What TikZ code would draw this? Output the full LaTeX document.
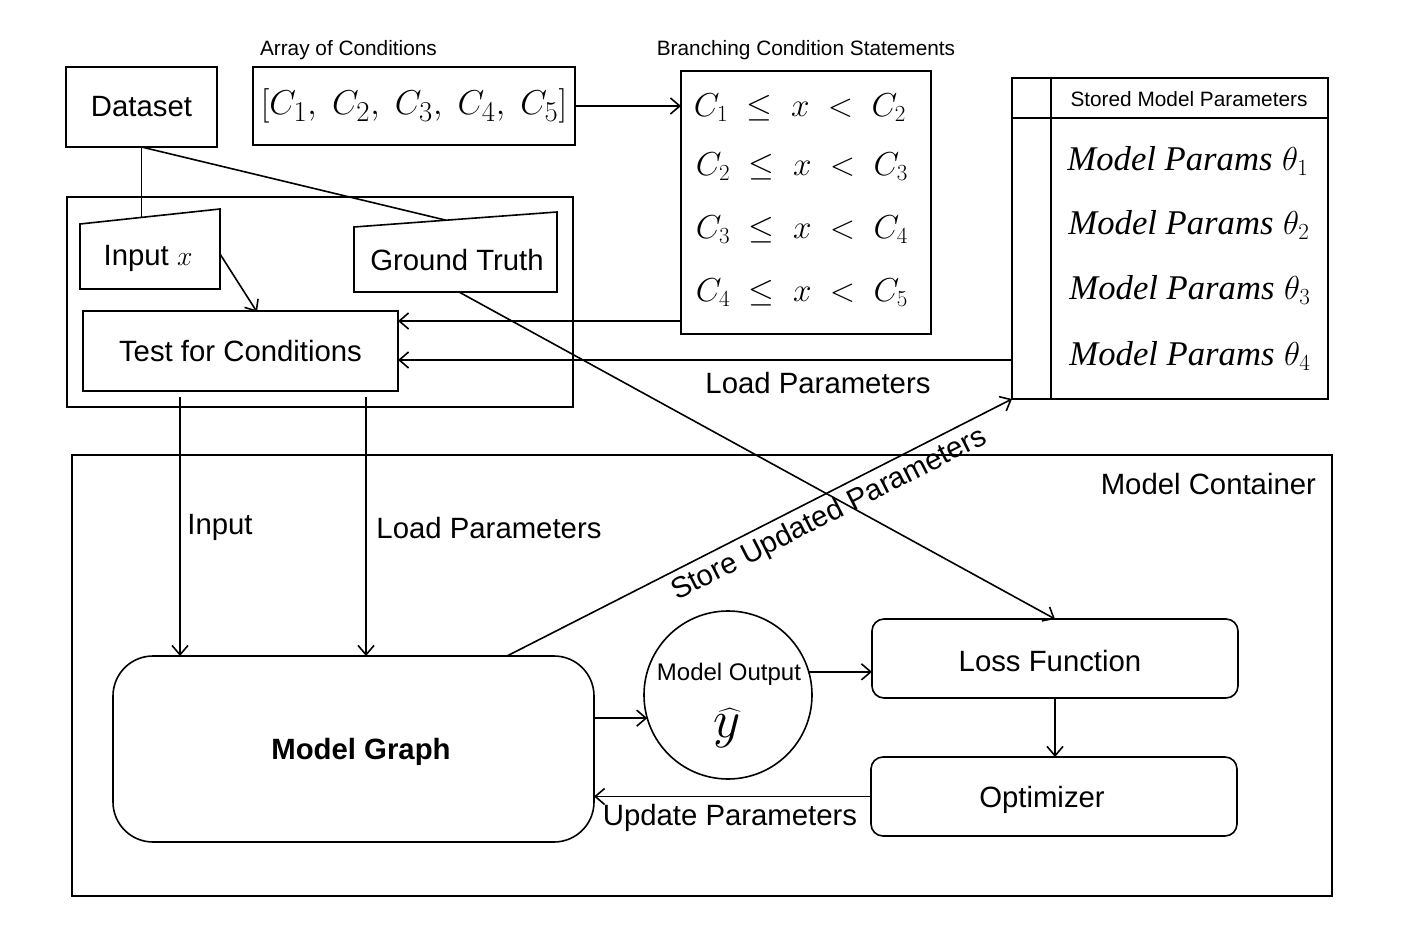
\documentclass[tikz,border=0pt]{standalone}
\usepackage{fontspec}
\setmainfont{Liberation Sans}
\newfontfamily\serifit{Liberation Serif}
\usetikzlibrary{arrows.meta}
\begin{document}
\begin{tikzpicture}[x=0.75pt, y=-0.75pt,
  every node/.style={inner sep=0pt, outer sep=0pt},
  plain/.style={line width=1.2pt},
  box/.style={draw, line width=1.2pt, rectangle},
  sz/.style 2 args={minimum width=#1*0.75pt, minimum height=#2*0.75pt},
  big/.style={font=\fontsize{22}{26}\selectfont},
  small/.style={font=\fontsize{15.6}{18}\selectfont},
  mid/.style={font=\fontsize{18}{21}\selectfont},
  mathrow/.style={font=\fontsize{24}{28}\selectfont},
  paramrow/.style={font=\fontsize{26}{30}\selectfont},
  conn/.style={line width=1.2pt, -{Straight Barb[length=7pt,width=12pt]}},
]
\useasboundingbox (0,0) rectangle (1404,945);

% top row
\node[box, sz={151}{80}, big] (dataset) at (141.5,107) {Dataset};
\node[small, anchor=west] (arrlbl) at (260,50) {Array of Conditions};
\node[box, sz={322}{78}, font=\fontsize{24.88}{30}\selectfont] (array) at (414,106) {\scalebox{1.04}{$[C_1,\ C_2,\ C_3,\ C_4,\ C_5]$}};
\node[small] (brlbl) at (806,50) {Branching Condition Statements};
\node[box, sz={250}{263}] (branch) at (806,202.5) {};
\node[mathrow] (br1) at (800,108) {$C_1\;\leq\;x\;<\;C_2$};
\node[mathrow] (br2) at (802,167) {$C_2\;\leq\;x\;<\;C_3$};
\node[mathrow] (br3) at (802,230) {$C_3\;\leq\;x\;<\;C_4$};
\node[mathrow] (br4) at (802,293) {$C_4\;\leq\;x\;<\;C_5$};

% stored parameters table
\node[box, sz={316}{321}] (store) at (1170,238.5) {};
\draw[plain] ([yshift=-30pt]store.north west) -- ([yshift=-30pt]store.north east);
\draw[plain] ([xshift=29.25pt]store.north west) -- ([xshift=29.25pt]store.south west);
\node[small] (storehdr) at (1189,99) {Stored Model Parameters};
\node[paramrow] (p1) at (1188,161) {{\serifit\itshape Model Params} $\theta_1$};
\node[paramrow] (p2) at (1189,225) {{\serifit\itshape Model Params} $\theta_2$};
\node[paramrow] (p3) at (1190,290) {{\serifit\itshape Model Params} $\theta_3$};
\node[paramrow] (p4) at (1190,356) {{\serifit\itshape Model Params} $\theta_4$};

% preprocessing container
\node[box, sz={506}{210}] (prep) at (320,302) {};
\draw[plain] (80,224) -- (220,209) -- (220,289) -- (80,289) -- cycle;
\node[big] (inx) at (148,258) {Input $x$};
\draw[plain] (354,227) -- (557,212) -- (557,292) -- (354,292) -- cycle;
\node[big] (gt) at (457,260) {Ground Truth};
\coordinate (inxtop) at (141.5,217.5);
\coordinate (gttop) at (446,220.2);
\coordinate (gtbot) at (459,292);
\coordinate (inxr) at (220,254);
\node[box, sz={315}{80}, big] (test) at (240.5,351) {Test for Conditions};
\coordinate (testin) at (257,312);

\draw[plain] (dataset.south) -- (inxtop);
\draw[plain] (dataset.south) -- (gttop);
\draw[conn] (inxr) -- (testin);
\draw[conn] (array.east) -- (array.east -| branch.west);

\coordinate (b4) at (681,321);
\draw[conn] (b4) -- (b4 -| test.east);
\coordinate (sL) at (1012,360);
\draw[conn] (sL) -- (sL -| test.east);
\node[big] (loadlbl1) at (818,383) {Load Parameters};

% model container
\node[box, sz={1260}{441}] (mc) at (702,675.5) {};
\node[big, anchor=east] (mclbl) at (1316,484) {Model Container};
\node[box, rounded corners=30pt, sz={481}{186}] (mg) at (353.5,749) {};
\node[font=\fontsize{22}{26}\selectfont\bfseries] (mglbl) at (361,752) {Model Graph};
\node[draw, circle, line width=1.2pt, minimum size=126pt] (mo) at (728,695) {};
\node[mid] (molbl) at (729,674) {Model Output};
\node[font=\fontsize{24.88}{30}\selectfont] (yhat) at (727,728) {\scalebox{1.6}{$\widehat{y}$}};
\node[box, rounded corners=9pt, sz={366}{79}] (loss) at (1055,658.5) {};
\node[big] (losslbl) at (1050,661) {Loss Function};
\node[box, rounded corners=9pt, sz={366}{79}] (opt) at (1054,796.5) {};
\node[big] (optlbl) at (1042,800) {Optimizer};

\coordinate (t1) at (180,397);
\coordinate (t2) at (366,397);
\draw[conn] (t1) -- (t1 |- mg.north);
\draw[conn] (t2) -- (t2 |- mg.north);
\node[big] (inlbl) at (220,527) {Input};
\node[big] (loadlbl2) at (489,528) {Load Parameters};

\draw[conn] (mo.196.6 -| mg.east) -- (mo.196.6);
\draw[conn] (mo.16.6) -- (mo.16.6 -| loss.west);
\draw[conn] (loss.south) -- (loss.south |- opt.north);
\draw[conn] (opt.west) -- (opt.west -| mg.east);
\node[big] (updlbl) at (730,818) {Update Parameters};

\coordinate (mgtop) at (507,656);
\draw[conn] (mgtop) -- (store.south west) node[pos=0.62, sloped, below=5pt, big] (storelbl) {Store Updated Parameters};
\draw[conn] (gtbot) -- (loss.north);
\end{tikzpicture}
\end{document}
